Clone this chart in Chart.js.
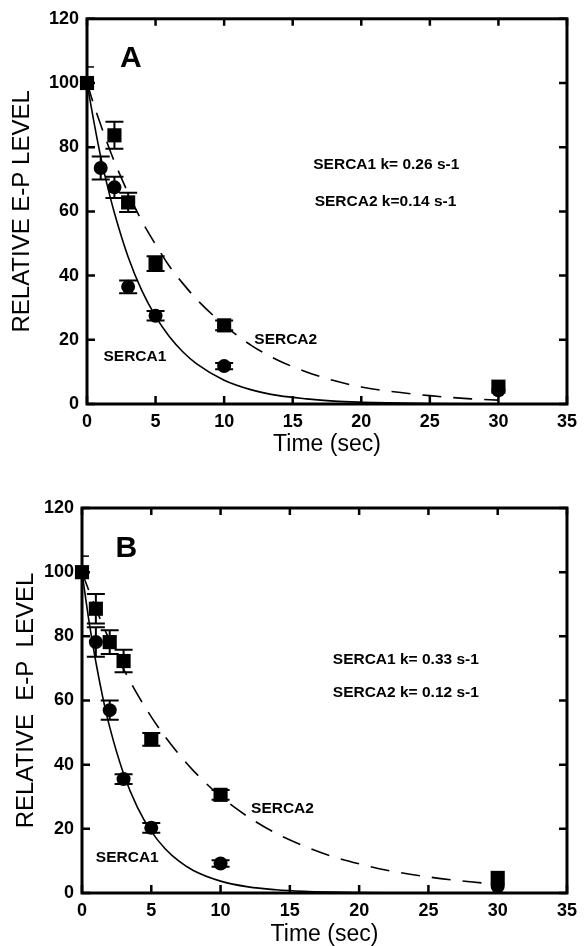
<!DOCTYPE html>
<html>
<head>
<meta charset="utf-8">
<script src="https://cdn.jsdelivr.net/npm/chart.js@4.4.1/dist/chart.umd.min.js"></script>
<style>
html, body { margin: 0; padding: 0; background: #fff; }
#wrap { position: relative; width: 584px; height: 946px; }
canvas { position: absolute; left: 0; }
#chartA { top: 0; }
#chartB { top: 470px; }
</style>
</head>
<body>
<div id="wrap">
<canvas id="chartA" width="584" height="470"></canvas>
<canvas id="chartB" width="584" height="476"></canvas>
</div>
<script>
// ---- panel A ----
var timesA1 = [0, 1, 2, 3, 5, 10, 30];
var serca1A = [100, 73.5, 67.5, 36.5, 27.5, 11.8, 4.3];
var serca1ErrA = [0, 3.6, 3.3, 2, 1.5, 1, 0];
var timesA2 = [0, 2, 3, 5, 10, 30];
var serca2A = [100, 83.7, 62.8, 43.7, 24.5, 5.4];
var serca2ErrA = [0, 4.2, 3, 2.3, 1.5, 0];

// ---- panel B ----
var timesB1 = [0, 1, 2, 3, 5, 10, 30];
var serca1B = [100, 78.2, 57, 35.5, 20.3, 9.2, 2.1];
var serca1ErrB = [0, 4.6, 3, 1.5, 1.5, 1, 0];
var timesB2 = [0, 1, 2, 3, 5, 10, 30];
var serca2B = [100, 88.6, 78.2, 72.3, 47.9, 30.6, 4.7];
var serca2ErrB = [0, 4.6, 3.7, 3.5, 2, 1.5, 0];

// fitted curves
var fitTimes = [0, 0.5, 1, 1.5, 2, 3, 4, 5, 6, 7, 8, 10, 12, 14, 16, 18, 20, 22, 25, 28, 30];
var fit1A = [100, 88, 77, 67.7, 59.5, 45.8, 35.3, 27.3, 21, 16.2, 12.5, 7.4, 4.4, 2.6, 1.6, 0.9, 0.55, 0.35, 0.15, 0.07, 0.04];
var fit2A = [100, 93.2, 87, 81, 75.5, 65.7, 57, 49.7, 43, 37.5, 32.6, 24.6, 18.2, 13.5, 10, 7.3, 5.3, 4, 2.6, 1.6, 1.2];
var fit1B = [100, 84.8, 72, 61, 51.7, 37.2, 26.7, 19.2, 13.8, 9.9, 7.1, 3.7, 1.9, 1, 0.5, 0.26, 0.14, 0.07, 0.03, 0.01, 0];
var fit2B = [100, 94.2, 88.7, 83.5, 78.7, 69.8, 61.9, 54.9, 48.7, 43.2, 38.3, 30.1, 23.7, 18.6, 14.7, 11.5, 9.1, 7.1, 5, 3.5, 2.7];

var xTicks = [0, 5, 10, 15, 20, 25, 30, 35];
var yTicks = [0, 20, 40, 60, 80, 100, 120];

Chart.defaults.font.family = '"Liberation Sans", Arial, sans-serif';
Chart.defaults.color = '#000';

function pts(xs, ys) {
    return xs.map(function(x, i) { return {x: x, y: ys[i]}; });
}

var figureExtras = {
    id: 'figureExtras',
    afterDatasetsDraw: function(chart, args, opts) {
        var ctx = chart.ctx, a = chart.chartArea;
        var xs = chart.scales.x, ys = chart.scales.y;
        ctx.save();
        ctx.strokeStyle = '#000';
        ctx.fillStyle = '#000';

        // error bars
        ctx.lineWidth = 2;
        chart.data.datasets.forEach(function(ds) {
            if (!ds.errors) return;
            ds.data.forEach(function(p, i) {
                var e = ds.errors[i];
                if (!e) return;
                var px = xs.getPixelForValue(p.x);
                var yt = ys.getPixelForValue(p.y + e);
                var yb = ys.getPixelForValue(p.y - e);
                ctx.beginPath();
                ctx.moveTo(px, yt); ctx.lineTo(px, yb);
                ctx.moveTo(px - 9, yt); ctx.lineTo(px + 9, yt);
                ctx.moveTo(px - 9, yb); ctx.lineTo(px + 9, yb);
                ctx.stroke();
            });
        });

        // frame
        ctx.lineWidth = 3;
        ctx.strokeRect(a.left, a.top, a.right - a.left, a.bottom - a.top);

        // inward ticks on all four sides
        ctx.lineWidth = 2.5;
        ctx.beginPath();
        xTicks.forEach(function(v) {
            var px = xs.getPixelForValue(v);
            ctx.moveTo(px, a.bottom); ctx.lineTo(px, a.bottom - 8);
            ctx.moveTo(px, a.top); ctx.lineTo(px, a.top + 7);
        });
        yTicks.forEach(function(v) {
            var py = ys.getPixelForValue(v);
            ctx.moveTo(a.left, py); ctx.lineTo(a.left + 8, py);
            ctx.moveTo(a.right, py); ctx.lineTo(a.right - 8, py);
        });
        ctx.stroke();
        ctx.lineWidth = 1.5;
        ctx.beginPath();
        var py5 = ys.getPixelForValue(105);
        ctx.moveTo(a.left, py5); ctx.lineTo(a.left + 7, py5);
        ctx.stroke();

        // text labels inside the plot
        ctx.textBaseline = 'middle';
        opts.labels.forEach(function(l) {
            ctx.font = l.font;
            ctx.textAlign = l.align || 'left';
            ctx.fillText(l.text, xs.getPixelForValue(l.x), ys.getPixelForValue(l.y));
        });
        ctx.restore();
    }
};

function makePanel(id, cfg) {
    return new Chart(document.getElementById(id), {
        type: 'scatter',
        data: {
            datasets: [
                {
                    label: 'SERCA1',
                    data: pts(cfg.t1, cfg.s1),
                    errors: cfg.e1,
                    pointStyle: 'circle',
                    pointRadius: 7,
                    pointBorderWidth: 0,
                    backgroundColor: '#000',
                    borderColor: '#000',
                    clip: false
                },
                {
                    label: 'SERCA2',
                    data: pts(cfg.t2, cfg.s2),
                    errors: cfg.e2,
                    pointStyle: 'rect',
                    pointRadius: 10,
                    pointBorderWidth: 0,
                    backgroundColor: '#000',
                    borderColor: '#000',
                    clip: false
                },
                {
                    label: 'SERCA1 fit',
                    data: pts(fitTimes, cfg.f1),
                    showLine: true,
                    pointRadius: 0,
                    borderColor: '#000',
                    borderWidth: 1.6,
                    cubicInterpolationMode: 'monotone',
                    clip: false
                },
                {
                    label: 'SERCA2 fit',
                    data: pts(fitTimes, cfg.f2),
                    showLine: true,
                    pointRadius: 0,
                    borderColor: '#000',
                    borderWidth: 1.6,
                    borderDash: [19, 12],
                    cubicInterpolationMode: 'monotone',
                    clip: false
                }
            ]
        },
        options: {
            responsive: false,
            animation: false,
            devicePixelRatio: 1,
            layout: {
                autoPadding: false,
                padding: {left: 0, right: cfg.padRight, top: cfg.padTop, bottom: 0}
            },
            plugins: {
                legend: {display: false},
                tooltip: {enabled: false},
                figureExtras: {labels: cfg.labels}
            },
            scales: {
                x: {
                    type: 'linear',
                    min: 0,
                    max: 35,
                    afterFit: function(s) { s.height = cfg.xHeight; },
                    grid: {display: false, drawTicks: false},
                    border: {display: false},
                    ticks: {stepSize: 5, padding: 7, font: {size: 18, weight: 'bold'}, maxRotation: 0},
                    title: {
                        display: true,
                        text: 'Time (sec)',
                        font: {size: 23, lineHeight: 1},
                        padding: {top: 0, bottom: cfg.xTitlePad}
                    }
                },
                y: {
                    min: 0,
                    max: 120,
                    afterFit: function(s) { s.width = cfg.yWidth; },
                    grid: {display: false, drawTicks: false},
                    border: {display: false},
                    ticks: {stepSize: 20, padding: 8, font: {size: 18, weight: 'bold'}},
                    title: {
                        display: true,
                        text: cfg.yTitle,
                        font: {size: 24, lineHeight: 1},
                        padding: {top: cfg.yTitlePad, bottom: 0}
                    }
                }
            }
        },
        plugins: [figureExtras]
    });
}

var labelFont = 'bold 15.5px "Liberation Sans", Arial';
var letterFont = 'bold 30px "Liberation Sans", Arial';

makePanel('chartA', {
    t1: timesA1, s1: serca1A, e1: serca1ErrA,
    t2: timesA2, s2: serca2A, e2: serca2ErrA,
    f1: fit1A, f2: fit2A,
    padRight: 12, padTop: 16, xHeight: 66, yWidth: 87,
    xTitlePad: 14, yTitlePad: 10,
    yTitle: 'RELATIVE E-P LEVEL',
    labels: [
        {text: 'A', x: 3.2, y: 107.5, font: letterFont, align: 'center'},
        {text: 'SERCA1 k= 0.26 s-1', x: 16.5, y: 74.4, font: labelFont},
        {text: 'SERCA2 k=0.14 s-1', x: 16.6, y: 62.9, font: labelFont},
        {text: 'SERCA2', x: 12.2, y: 20, font: labelFont},
        {text: 'SERCA1', x: 1.2, y: 14.6, font: labelFont}
    ]
});

makePanel('chartB', {
    t1: timesB1, s1: serca1B, e1: serca1ErrB,
    t2: timesB2, s2: serca2B, e2: serca2ErrB,
    f1: fit1B, f2: fit2B,
    padRight: 15, padTop: 38, xHeight: 53, yWidth: 82,
    xTitlePad: 0, yTitlePad: 14,
    yTitle: 'RELATIVE  E-P  LEVEL',
    labels: [
        {text: 'B', x: 3.2, y: 107.2, font: letterFont, align: 'center'},
        {text: 'SERCA1 k= 0.33 s-1', x: 18.1, y: 72.7, font: labelFont},
        {text: 'SERCA2 k= 0.12 s-1', x: 18.1, y: 62.4, font: labelFont},
        {text: 'SERCA2', x: 12.2, y: 26.3, font: labelFont},
        {text: 'SERCA1', x: 1.0, y: 11, font: labelFont}
    ]
});
</script>
</body>
</html>
